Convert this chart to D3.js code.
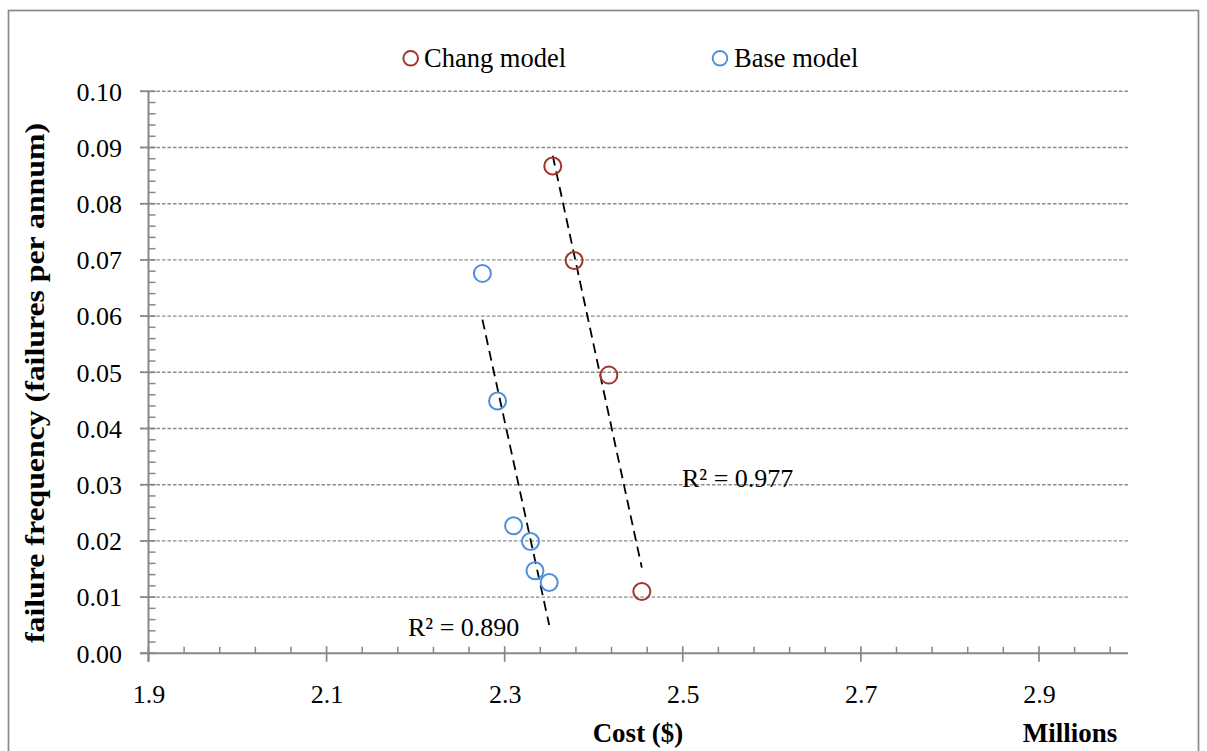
<!DOCTYPE html>
<html>
<head>
<meta charset="utf-8">
<script src="https://cdn.jsdelivr.net/npm/d3@7"></script>
<style>
  html, body { margin: 0; padding: 0; background: #fff; }
  svg { display: block; }
  text { font-family: "Liberation Serif", "Times New Roman", serif; fill: #000; }
</style>
</head>
<body>
<svg id="chart" width="1207" height="751"></svg>
<script>
// ---- data ----
const changCost = [2.354, 2.378, 2.417, 2.454];
const changFreq = [0.0867, 0.0699, 0.0495, 0.0110];
const baseCost = [2.275, 2.292, 2.310, 2.329, 2.334, 2.350];
const baseFreq = [0.0676, 0.0449, 0.0227, 0.0199, 0.0147, 0.0126];
const seriesNames = ["Chang model", "Base model"];
const r2Labels = ["0.977", "0.890"];
const xTickValues = [1.9, 2.1, 2.3, 2.5, 2.7, 2.9];
const yTickValues = [0, 0.01, 0.02, 0.03, 0.04, 0.05, 0.06, 0.07, 0.08, 0.09, 0.10];
const xTitle = "Cost ($)";
const xUnit = "Millions";
const yTitle = "failure frequency (failures per annum)";

(function () {
// ---- layout ----
const svg = d3.select("#chart");
const pLeft = 148.5, pRight = 1128, pTop = 91.3, pBottom = 653.3;
const x = d3.scaleLinear().domain([1.9, 3.0]).range([pLeft, pRight]);
const y = d3.scaleLinear().domain([0, 0.10]).range([pBottom, pTop]);
const red = "#A0352F", blue = "#4F8FDB", axisCol = "#878787";

// outer frame
svg.append("rect").attr("x", 8.5).attr("y", 10.5).attr("width", 1190).attr("height", 780)
  .attr("fill", "none").attr("stroke", "#8a8a8a").attr("stroke-width", 1.7);

// gridlines
svg.append("g").selectAll("line").data(yTickValues.filter(d => d > 0)).join("line")
  .attr("x1", 140).attr("x2", pRight).attr("y1", d => y(d)).attr("y2", d => y(d))
  .attr("stroke", "#8c8c8c").attr("stroke-width", 1.4).attr("stroke-dasharray", "3.5,2");

// minor ticks
const xMinor = d3.range(1.94, 3.0, 0.04).filter(v => Math.abs(((v - 1.9) / 0.2) - Math.round((v - 1.9) / 0.2)) > 1e-6);
svg.append("g").selectAll("line").data(xMinor).join("line")
  .attr("x1", d => x(d)).attr("x2", d => x(d)).attr("y1", pBottom - 6.5).attr("y2", pBottom)
  .attr("stroke", axisCol).attr("stroke-width", 1.5);
const yMinor = d3.range(0.002, 0.1, 0.002).filter(v => Math.abs(v * 100 - Math.round(v * 100)) > 1e-6);
svg.append("g").selectAll("line").data(yMinor).join("line")
  .attr("x1", pLeft).attr("x2", pLeft + 7).attr("y1", d => y(d)).attr("y2", d => y(d))
  .attr("stroke", axisCol).attr("stroke-width", 1.5);

// x axis
const xAxis = d3.axisBottom(x).tickValues(xTickValues).tickSize(0).tickFormat(d3.format(".1f"));
const gx = svg.append("g").attr("transform", `translate(0,${pBottom})`).call(xAxis);
gx.select(".domain").remove();
gx.selectAll("text").attr("y", 50).attr("dy", 0).style("font-size", "26px")
  .style("font-family", "'Liberation Serif', serif").attr("fill", "#000");
svg.append("line").attr("x1", 140).attr("x2", pRight).attr("y1", pBottom).attr("y2", pBottom)
  .attr("stroke", axisCol).attr("stroke-width", 2);
svg.append("g").selectAll("line").data(xTickValues).join("line")
  .attr("x1", d => x(d)).attr("x2", d => x(d)).attr("y1", pBottom - 7).attr("y2", pBottom + 8.5)
  .attr("stroke", axisCol).attr("stroke-width", 1.7);

// y axis
const yAxis = d3.axisLeft(y).tickValues(yTickValues).tickSize(0).tickFormat(d3.format(".2f"));
const gy = svg.append("g").attr("transform", `translate(${pLeft},0)`).call(yAxis);
gy.select(".domain").remove();
gy.selectAll("text").attr("x", -26.5).attr("dy", "0.34em").style("font-size", "26px")
  .style("font-family", "'Liberation Serif', serif").attr("fill", "#000");
svg.append("line").attr("x1", pLeft).attr("x2", pLeft).attr("y1", pTop).attr("y2", pBottom + 8.5)
  .attr("stroke", axisCol).attr("stroke-width", 2);
svg.append("g").selectAll("line").data(yTickValues).join("line")
  .attr("x1", 140).attr("x2", pLeft + 7).attr("y1", d => y(d)).attr("y2", d => y(d))
  .attr("stroke", axisCol).attr("stroke-width", 1.7);

// trendlines (least squares)
function fit(xs, ys) {
  const mx = d3.mean(xs), my = d3.mean(ys);
  let sxy = 0, sxx = 0;
  xs.forEach((v, i) => { sxy += (v - mx) * (ys[i] - my); sxx += (v - mx) ** 2; });
  const b = sxy / sxx, a = my - b * mx;
  const x0 = d3.min(xs), x1 = d3.max(xs);
  return [[x0, a + b * x0], [x1, a + b * x1]];
}
const trends = [fit(changCost, changFreq), fit(baseCost, baseFreq)];
svg.append("g").selectAll("path").data(trends).join("path")
  .attr("d", d3.line().x(d => x(d[0])).y(d => y(d[1])))
  .attr("fill", "none").attr("stroke", "#000").attr("stroke-width", 1.8).attr("stroke-dasharray", "10,6");

// markers
const changPts = changCost.map((c, i) => [c, changFreq[i]]);
const basePts = baseCost.map((c, i) => [c, baseFreq[i]]);
svg.append("g").selectAll("circle").data(changPts).join("circle")
  .attr("cx", d => x(d[0])).attr("cy", d => y(d[1])).attr("r", 8.5)
  .attr("fill", "none").attr("stroke", red).attr("stroke-width", 2);
svg.append("g").selectAll("circle").data(basePts).join("circle")
  .attr("cx", d => x(d[0])).attr("cy", d => y(d[1])).attr("r", 8.5)
  .attr("fill", "none").attr("stroke", blue).attr("stroke-width", 2);

// R² labels
const r2Pos = [[682, 487], [408, 636]];
r2Labels.forEach((v, i) => {
  svg.append("text").attr("x", r2Pos[i][0]).attr("y", r2Pos[i][1]).style("font-size", "26px")
    .text("R\u00B2 = " + v);
});

// axis titles
svg.append("text").attr("x", 638).attr("y", 742).attr("text-anchor", "middle")
  .style("font-size", "27px").style("font-weight", "bold").text(xTitle);
svg.append("text").attr("x", 1070).attr("y", 742).attr("text-anchor", "middle")
  .style("font-size", "27px").style("font-weight", "bold").text(xUnit);
svg.append("text").attr("transform", "translate(44,383) rotate(-90)").attr("text-anchor", "middle")
  .style("font-size", "28px").style("font-weight", "bold")
  .attr("textLength", 520).attr("lengthAdjust", "spacingAndGlyphs").text(yTitle);

// legend
const legend = [[410.7, red, 424], [720, blue, 734]];
legend.forEach((l, i) => {
  svg.append("circle").attr("cx", l[0]).attr("cy", 58.3).attr("r", 7.3)
    .attr("fill", "none").attr("stroke", l[1]).attr("stroke-width", 2);
  svg.append("text").attr("x", l[2]).attr("y", 67).style("font-size", "26.5px").text(seriesNames[i]);
});
})();
</script>
</body>
</html>
